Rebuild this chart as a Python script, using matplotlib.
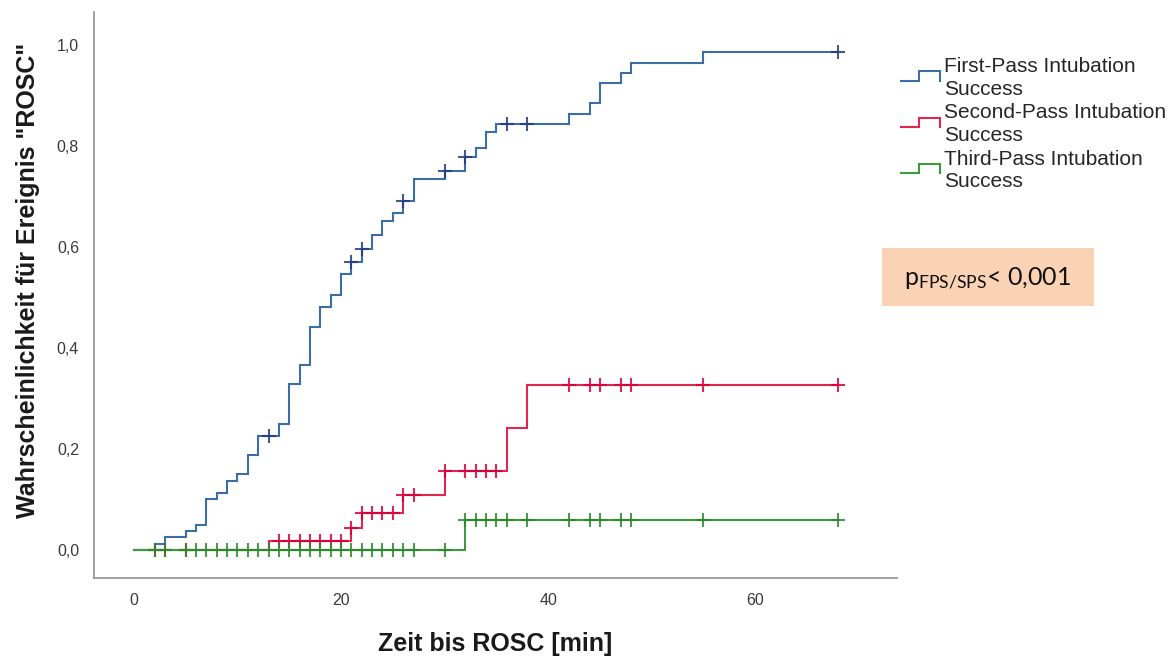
import numpy as np
import matplotlib
matplotlib.use("Agg")
import matplotlib.pyplot as plt
from matplotlib.lines import Line2D
from matplotlib.legend_handler import HandlerBase
from matplotlib.patches import Rectangle

# Kaplan-Meier style cumulative event curves (1 - S(t)), time in minutes
blue_times = [0, 2, 3, 5, 6, 7, 8, 9, 10, 11, 12, 14, 15, 16, 17, 18, 19, 20,
              21, 22, 23, 24, 25, 26, 27, 30, 32, 33, 34, 35, 42, 44, 45, 47, 48, 55]
blue_vals = [0, 0.012, 0.026, 0.039, 0.050, 0.101, 0.114, 0.138, 0.151, 0.189, 0.227,
             0.250, 0.329, 0.366, 0.443, 0.481, 0.506, 0.546,
             0.571, 0.597, 0.624, 0.652, 0.667, 0.692, 0.734,
             0.751, 0.779, 0.796, 0.827, 0.843,
             0.863, 0.885, 0.925, 0.945, 0.965, 0.985]
blue_censored = [13, 21, 22, 26, 30, 32, 36, 38, 68]

red_times = [0, 13, 21, 22, 26, 30, 36, 38]
red_vals = [0, 0.019, 0.044, 0.074, 0.110, 0.157, 0.242, 0.327]
red_censored = [2, 3, 5, 14, 15, 16, 17, 18, 19, 20, 21, 22, 23, 24, 25, 26, 27,
                30, 32, 33, 34, 35, 42, 44, 45, 47, 48, 55, 68]

green_times = [0, 32]
green_vals = [0, 0.060]
green_censored = [2, 3, 5, 6, 7, 8, 9, 10, 11, 12, 13, 14, 15, 16, 17, 18, 19, 20,
                  21, 22, 23, 24, 25, 26, 27, 30, 32, 33, 34, 35, 36, 38, 42, 44,
                  45, 47, 48, 55, 68]

end_time = 68

series_labels = ["First-Pass Intubation\nSuccess",
                 "Second-Pass Intubation\nSuccess",
                 "Third-Pass Intubation\nSuccess"]
x_ticks = [0, 20, 40, 60]
y_ticks = [0.0, 0.2, 0.4, 0.6, 0.8, 1.0]
y_tick_labels = ["0,0", "0,2", "0,4", "0,6", "0,8", "1,0"]

line_colors = ["#3b6ea5", "#e0284f", "#3f9a3f"]
mark_colors = ["#24397e", "#d5003a", "#2b872b"]

plt.rcParams["font.family"] = ["Liberation Sans", "DejaVu Sans"]
plt.rcParams["mathtext.fontset"] = "custom"
plt.rcParams["mathtext.rm"] = "Lato"
plt.rcParams["mathtext.it"] = "Lato:italic"
plt.rcParams["mathtext.bf"] = "Lato:bold"

W, H = 1172, 657
fig = plt.figure(figsize=(W / 100, H / 100), dpi=100)
ax_left, ax_right, ax_bottom, ax_top = 94, 897, 578, 12
ax = fig.add_axes([ax_left / W, 1 - ax_bottom / H,
                   (ax_right - ax_left) / W, (ax_bottom - ax_top) / H])


def step_value(times, vals, t):
    idx = np.searchsorted(times, t, side="right") - 1
    return vals[idx]


handles = []
for times, vals, cens, lc, mc in [
    (blue_times, blue_vals, blue_censored, line_colors[0], mark_colors[0]),
    (red_times, red_vals, red_censored, line_colors[1], mark_colors[1]),
    (green_times, green_vals, green_censored, line_colors[2], mark_colors[2]),
]:
    t = np.array(times + [end_time], dtype=float)
    v = np.array(vals + [vals[-1]], dtype=float)
    (ln,) = ax.step(t, v, where="post", color=lc, lw=1.5, solid_joinstyle="miter")
    handles.append(ln)
    cy = [step_value(np.array(times), np.array(vals), c) for c in cens]
    ax.plot(cens, cy, linestyle="none", marker="+", markersize=10,
            markeredgewidth=1.5, color=mc, alpha=0.85)

ax.set_xlim(-3.86, 73.7)
ax.set_ylim(-0.0544, 1.065)
ax.set_xticks(x_ticks)
ax.set_xticklabels([str(x) for x in x_ticks])
ax.set_yticks(y_ticks)
ax.set_yticklabels(y_tick_labels)
ax.tick_params(axis="both", length=0, labelsize=11.5, labelcolor="#3a3a3a")
ax.tick_params(axis="x", pad=10.5)
ax.tick_params(axis="y", pad=10.8)

for side in ["top", "right"]:
    ax.spines[side].set_visible(False)
for side in ["left", "bottom"]:
    ax.spines[side].set_color("#9a9a9a")
    ax.spines[side].set_linewidth(1.3)

ax.set_xlabel("Zeit bis ROSC [min]", fontsize=18, fontweight="bold",
              color="#1a1a1a", va="center")
ax.xaxis.set_label_coords(0.5, (ax_bottom - 644) / (ax_bottom - ax_top))
ax.set_ylabel('Wahrscheinlichkeit für Ereignis "ROSC"', fontsize=18,
              fontweight="bold", color="#1a1a1a", va="center")
ax.yaxis.set_label_coords((28 - ax_left) / (ax_right - ax_left),
                          (ax_bottom - 280) / (ax_bottom - ax_top))


class StepHandler(HandlerBase):
    def create_artists(self, legend, orig_handle, xdescent, ydescent,
                       width, height, fontsize, trans):
        x0 = -xdescent
        yc = -ydescent + height / 2 + 0.1 * fontsize
        lo = yc - 0.22 * fontsize
        hi = yc + 0.22 * fontsize
        xm = x0 + 0.48 * width
        line = Line2D([x0, xm, xm, x0 + width, x0 + width],
                      [lo, lo, hi, hi, lo],
                      color=orig_handle.get_color(), lw=1.5,
                      transform=trans, solid_joinstyle="miter")
        return [line]


leg = fig.legend(handles, series_labels, loc="upper left",
                 bbox_to_anchor=(901 / W, 1 - 57 / H),
                 frameon=False, fontsize=15, borderpad=0, borderaxespad=0,
                 handlelength=1.85, handletextpad=0.22, labelspacing=0.22,
                 handler_map={Line2D: StepHandler()},
                 labelcolor="#262626")
for txt in leg.get_texts():
    txt.set_linespacing(1.25)

# p-value box
box_x0, box_x1, box_y0, box_y1 = 882, 1094, 248, 306
fig.patches.append(Rectangle((box_x0 / W, 1 - box_y1 / H),
                             (box_x1 - box_x0) / W, (box_y1 - box_y0) / H,
                             transform=fig.transFigure, facecolor="#fad3b4",
                             edgecolor="none"))
fig.text(988 / W, 1 - 279 / H, r"p$_{\mathrm{FPS/SPS}}$< 0,001",
         fontsize=18, family="Lato", ha="center", va="center", color="#111111")

fig.savefig("out.png", dpi=100)
